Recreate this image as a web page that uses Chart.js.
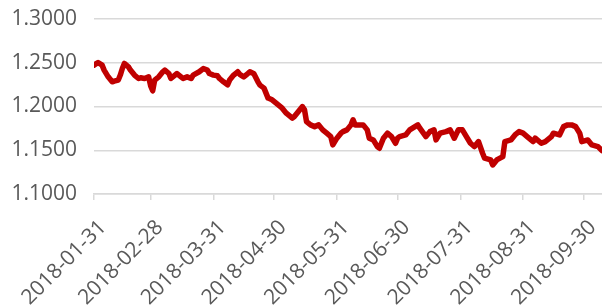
<!DOCTYPE html>
<html><head><meta charset="utf-8">
<script src="https://cdn.jsdelivr.net/npm/chart.js@4/dist/chart.umd.min.js"></script>
<style>html,body{margin:0;padding:0;background:#fff;overflow:hidden}</style>
</head><body>
<canvas id="c" width="602" height="307"></canvas>
<script>
const dates = [
'2018-01-31','2018-02-02','2018-02-04','2018-02-05','2018-02-07','2018-02-09','2018-02-10','2018-02-12','2018-02-13','2018-02-14',
'2018-02-15','2018-02-17','2018-02-18','2018-02-20','2018-02-22','2018-02-23','2018-02-25','2018-02-27','2018-02-28','2018-03-01',
'2018-03-02','2018-03-04','2018-03-06','2018-03-07','2018-03-09','2018-03-10','2018-03-12','2018-03-13','2018-03-15','2018-03-16',
'2018-03-18','2018-03-20','2018-03-21','2018-03-24','2018-03-26','2018-03-28','2018-03-29','2018-03-31','2018-04-02','2018-04-03',
'2018-04-05','2018-04-07','2018-04-08','2018-04-10','2018-04-12','2018-04-13','2018-04-15','2018-04-17','2018-04-18','2018-04-20',
'2018-04-22','2018-04-23','2018-04-25','2018-04-27','2018-04-29','2018-05-01','2018-05-04','2018-05-06','2018-05-09','2018-05-10',
'2018-05-12','2018-05-14','2018-05-15','2018-05-16','2018-05-18','2018-05-20','2018-05-22','2018-05-24','2018-05-26','2018-05-28',
'2018-05-29','2018-05-31','2018-06-02','2018-06-03','2018-06-05','2018-06-07','2018-06-08','2018-06-09','2018-06-11','2018-06-13',
'2018-06-15','2018-06-16','2018-06-18','2018-06-20','2018-06-21','2018-06-23','2018-06-25','2018-06-27','2018-06-29','2018-06-30',
'2018-07-01','2018-07-04','2018-07-06','2018-07-10','2018-07-11','2018-07-14','2018-07-16','2018-07-18','2018-07-19','2018-07-21',
'2018-07-24','2018-07-26','2018-07-28','2018-07-30','2018-08-01','2018-08-03','2018-08-05','2018-08-07','2018-08-09','2018-08-11',
'2018-08-12','2018-08-15','2018-08-16','2018-08-18','2018-08-21','2018-08-22','2018-08-25','2018-08-27','2018-08-29','2018-08-31',
'2018-09-02','2018-09-05','2018-09-06','2018-09-09','2018-09-11','2018-09-14','2018-09-15','2018-09-18','2018-09-20','2018-09-22',
'2018-09-24','2018-09-26','2018-09-28','2018-09-29','2018-10-02','2018-10-04','2018-10-07','2018-10-09'
];
const values = [
1.2473,1.2503,1.2473,1.2416,1.2339,1.2282,1.2290,1.2302,1.2359,1.2434,
1.2492,1.2454,1.2416,1.2359,1.2320,1.2328,1.2320,1.2339,1.2236,1.2179,
1.2302,1.2339,1.2397,1.2416,1.2377,1.2320,1.2359,1.2377,1.2339,1.2320,
1.2339,1.2320,1.2359,1.2397,1.2434,1.2416,1.2377,1.2359,1.2351,1.2320,
1.2282,1.2248,1.2302,1.2359,1.2397,1.2368,1.2339,1.2377,1.2397,1.2374,
1.2282,1.2244,1.2210,1.2096,1.2076,1.2038,1.1981,1.1924,1.1867,1.1885,
1.1942,1.1999,1.1962,1.1828,1.1790,1.1770,1.1790,1.1733,1.1695,1.1656,
1.1561,1.1638,1.1695,1.1713,1.1733,1.1790,1.1847,1.1790,1.1790,1.1790,
1.1733,1.1638,1.1618,1.1542,1.1523,1.1638,1.1695,1.1656,1.1580,1.1638,
1.1656,1.1675,1.1733,1.1790,1.1752,1.1656,1.1713,1.1733,1.1618,1.1695,
1.1713,1.1733,1.1638,1.1733,1.1733,1.1656,1.1580,1.1542,1.1599,1.1466,
1.1409,1.1389,1.1332,1.1389,1.1427,1.1599,1.1618,1.1675,1.1713,1.1695,
1.1656,1.1599,1.1638,1.1580,1.1599,1.1656,1.1695,1.1675,1.1770,1.1790,
1.1790,1.1770,1.1695,1.1599,1.1618,1.1561,1.1542,1.1495
];
const tickDates = ['2018-01-31','2018-02-28','2018-03-31','2018-04-30','2018-05-31','2018-06-30','2018-07-31','2018-08-31','2018-09-30'];
const yTicks = [1.10, 1.15, 1.20, 1.25, 1.30];
const axisEndDate = '2018-10-09';

const DAY = 86400000;
const t0 = Date.parse(dates[0]);
const dayOf = s => Math.round((Date.parse(s) - t0) / DAY);
const points = dates.map((d, i) => ({x: dayOf(d), y: values[i]}));
const labelByDay = {};
tickDates.forEach(d => { labelByDay[dayOf(d)] = d; });

const FONT = {family: "'Open Sans', sans-serif", size: 21};
const TXT = '#595959';
const GRID = '#D9D9D9';
const ZERO_PAD = () => ({left: 0, right: 0, top: 0, bottom: 0});

const fixedLayout = {
  id: 'fixedLayout',
  beforeLayout(chart) {
    Object.values(chart.scales).forEach(s => { s.getPadding = ZERO_PAD; });
  }
};

new Chart(document.getElementById('c'), {
  type: 'line',
  data: {datasets: [{
    data: points,
    borderColor: '#C00000',
    borderWidth: 5.5,
    pointRadius: 0,
    tension: 0,
    borderJoinStyle: 'round',
    borderCapStyle: 'round',
    fill: false
  }]},
  options: {
    responsive: false,
    animation: false,
    devicePixelRatio: 1,
    layout: {padding: {top: 19, right: 0, left: 11, bottom: 0}},
    plugins: {legend: {display: false}, tooltip: {enabled: false}},
    scales: {
      x: {
        type: 'linear',
        min: 0,
        max: dayOf(axisEndDate),
        afterBuildTicks: ax => { ax.ticks = tickDates.map(d => ({value: dayOf(d)})); },
        afterFit: ax => { ax.height = 113; },
        ticks: {
          autoSkip: false,
          minRotation: 45, maxRotation: 45,
          color: TXT, font: FONT, padding: 15,
          labelOffset: 9,
          callback: v => labelByDay[v] || ''
        },
        grid: {display: true, drawOnChartArea: false, drawTicks: true, tickLength: 6, color: GRID, lineWidth: 1.5},
        border: {display: true, color: GRID, width: 1.5}
      },
      y: {
        type: 'linear',
        min: yTicks[0], max: yTicks[yTicks.length - 1],
        afterBuildTicks: ax => { ax.ticks = yTicks.map(v => ({value: v})); },
        afterFit: ax => { ax.width = 83; },
        ticks: {color: TXT, font: FONT, padding: 17, callback: v => Number(v).toFixed(4)},
        grid: {color: GRID, lineWidth: 1.5, drawTicks: false},
        border: {display: false}
      }
    }
  },
  plugins: [fixedLayout]
});
</script>
</body></html>
